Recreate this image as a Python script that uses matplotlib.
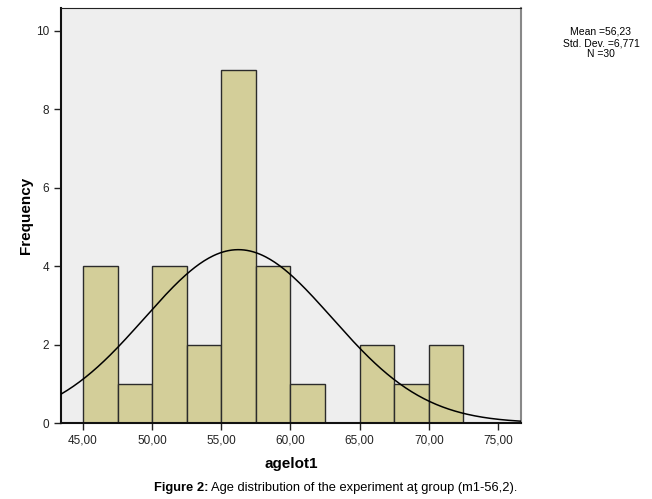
import numpy as np
import matplotlib.pyplot as plt

plt.rcParams['font.family'] = ['Liberation Sans', 'DejaVu Sans']

# histogram of agelot1, bins of 2,5
bin_edges = [45.0, 47.5, 50.0, 52.5, 55.0, 57.5, 60.0, 62.5, 65.0, 67.5, 70.0, 72.5]
counts = [4, 1, 4, 2, 9, 4, 1, 0, 2, 1, 2]
mean = 56.23
std = 6.771
n = 30
x_ticks = [45, 50, 55, 60, 65, 70, 75]
x_labels = ["45,00", "50,00", "55,00", "60,00", "65,00", "70,00", "75,00"]
y_ticks = [0, 2, 4, 6, 8, 10]

fig = plt.figure(figsize=(6.52, 4.99), dpi=100)
ax = fig.add_axes([0.0936, 0.1523, 0.7055, 0.8317])
ax.set_facecolor('#eeeeee')

widths = np.diff(bin_edges)
ax.bar(bin_edges[:-1], counts, width=widths, align='edge',
       color='#d3ce99', edgecolor='#2b2b2b', linewidth=1.0, zorder=2)

xmin, xmax = 43.41, 76.67
xs = np.linspace(xmin, xmax, 300)
bw = bin_edges[1] - bin_edges[0]
ys = n * bw / (std * np.sqrt(2 * np.pi)) * np.exp(-0.5 * ((xs - mean) / std) ** 2)
ax.plot(xs, ys, color='black', linewidth=1.1, zorder=3)

ax.set_xlim(xmin, xmax)
ax.set_ylim(0, 10.58)
ax.set_xticks(x_ticks)
ax.set_xticklabels(x_labels)
ax.set_yticks(y_ticks)
ax.tick_params(axis='both', direction='out', length=5, width=1, labelsize=8.5,
               labelcolor='#222222', color='#222222')
for side in ['left', 'bottom']:
    ax.spines[side].set_linewidth(1.5)
    ax.spines[side].set_color('#111111')
ax.spines['top'].set_color('#222222')
ax.spines['right'].set_color('#888888')
ax.spines['right'].set_linewidth(1.5)

ax.set_xlabel('agelot1', fontsize=11, fontweight='bold', labelpad=7)
ax.set_ylabel('Frequency', fontsize=11, fontweight='bold')
ax.yaxis.set_label_coords(-0.06, 0.5)

fig.text(601 / 652, 1 - 43 / 499,
         "Mean =56,23\nStd. Dev. =6,771\nN =30",
         ha='center', va='center', fontsize=7.5, linespacing=1.15)

cy = 1 - 488 / 499
fig.text(208 / 652, cy, "Figure 2:", ha='right', va='center', fontsize=9.3,
         fontweight='bold')
fig.text(211 / 652, cy, "Age distribution of the experiment aţ group (m1-56,2).",
         ha='left', va='center', fontsize=9.3)

plt.savefig("out.png", dpi=100)
